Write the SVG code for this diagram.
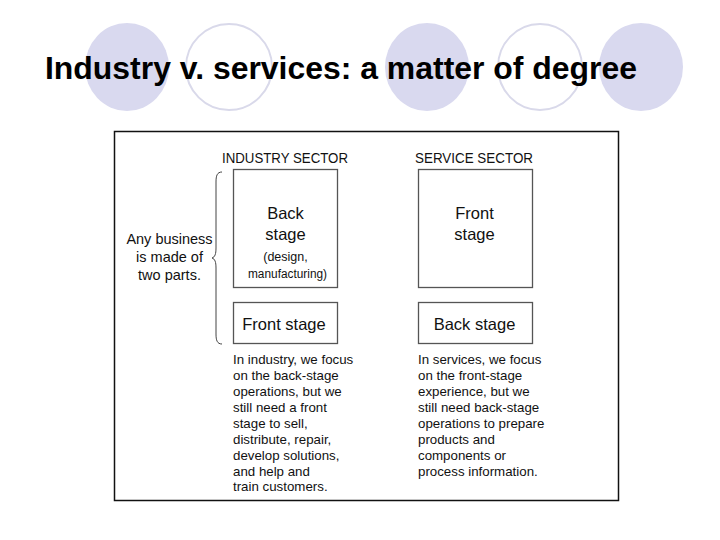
<svg xmlns="http://www.w3.org/2000/svg" width="720" height="540" viewBox="0 0 720 540">
<style>
.deco-fill{fill:#d9d9ef;stroke:none}
.deco-ring{fill:none;stroke:#d9d9ea;stroke-width:2}
.title{font-family:"Liberation Sans",Arial,sans-serif;font-weight:bold;font-size:32px;fill:#000}
.frame{fill:#fff;stroke:#111;stroke-width:1.5}
.box{fill:#fff;stroke:#555;stroke-width:1.3}
.t{font-family:"Liberation Sans",Arial,sans-serif;fill:#111}
.hd{font-size:14.5px}
.lb{font-size:16.5px}
.sm{font-size:12.5px}
.para{font-size:13.3px}
.mid{text-anchor:middle}
.brace{fill:none;stroke:#444;stroke-width:1}
</style>
<g id="decor">
<ellipse class="deco-fill" cx="127" cy="67" rx="42" ry="44"/>
<ellipse class="deco-ring" cx="229" cy="67" rx="43" ry="43"/>
<ellipse class="deco-fill" cx="427" cy="67" rx="42" ry="44"/>
<ellipse class="deco-ring" cx="540" cy="67" rx="42" ry="43"/>
<ellipse class="deco-fill" cx="641" cy="67" rx="42" ry="44"/>
</g>
<text class="title" x="45" y="79" textLength="592" lengthAdjust="spacingAndGlyphs">Industry v. services: a matter of degree</text>
<rect class="frame" x="114.5" y="131.5" width="504" height="369"/>
<g id="labels">
<text class="t hd" x="222" y="163" textLength="126" lengthAdjust="spacingAndGlyphs">INDUSTRY SECTOR</text>
<text class="t hd" x="415" y="163" textLength="118" lengthAdjust="spacingAndGlyphs">SERVICE SECTOR</text>
</g>
<g id="any-business">
<text class="t mid" x="169.5" y="244" font-size="14.5">Any business</text>
<text class="t mid" x="169.5" y="262" font-size="14.5">is made of</text>
<text class="t mid" x="169.5" y="280" font-size="14.5">two parts.</text>
</g>
<g id="connectors">
<path class="brace" d="M222,172 C217,172 216,176 216,182 L216,248 C216,254 215,257 212,258 C215,259 216,262 216,268 L216,334 C216,340 217,344 222,344"/>
</g>
<g id="industry-back">
<rect class="box" x="233.5" y="169.5" width="104" height="118"/>
<text class="t lb mid" x="285.5" y="219">Back</text>
<text class="t lb mid" x="285.5" y="240">stage</text>
<text class="t sm mid" x="285.5" y="261">(design,</text>
<text class="t sm mid" x="287.5" y="278" textLength="79" lengthAdjust="spacingAndGlyphs">manufacturing)</text>
</g>
<g id="industry-front">
<rect class="box" x="233.5" y="302.5" width="104" height="41"/>
<text class="t lb mid" x="284" y="330">Front stage</text>
</g>
<g id="service-front">
<rect class="box" x="418.5" y="169.5" width="114" height="118"/>
<text class="t lb mid" x="474.5" y="219">Front</text>
<text class="t lb mid" x="474.5" y="240">stage</text>
</g>
<g id="service-back">
<rect class="box" x="418.5" y="302.5" width="114" height="41"/>
<text class="t lb mid" x="474.5" y="330">Back stage</text>
</g>
<g id="industry-note">
<text class="t para" x="233" y="364">In industry, we focus</text>
<text class="t para" x="233" y="380">on the back-stage</text>
<text class="t para" x="233" y="396">operations, but we</text>
<text class="t para" x="233" y="412">still need a front</text>
<text class="t para" x="233" y="428">stage to sell,</text>
<text class="t para" x="233" y="444">distribute, repair,</text>
<text class="t para" x="233" y="460">develop solutions,</text>
<text class="t para" x="233" y="476">and help and</text>
<text class="t para" x="233" y="491">train customers.</text>
</g>
<g id="service-note">
<text class="t para" x="418" y="364">In services, we focus</text>
<text class="t para" x="418" y="380">on the front-stage</text>
<text class="t para" x="418" y="396">experience, but we</text>
<text class="t para" x="418" y="412">still need back-stage</text>
<text class="t para" x="418" y="428">operations to prepare</text>
<text class="t para" x="418" y="444">products and</text>
<text class="t para" x="418" y="460">components or</text>
<text class="t para" x="418" y="476">process information.</text>
</g>
</svg>
